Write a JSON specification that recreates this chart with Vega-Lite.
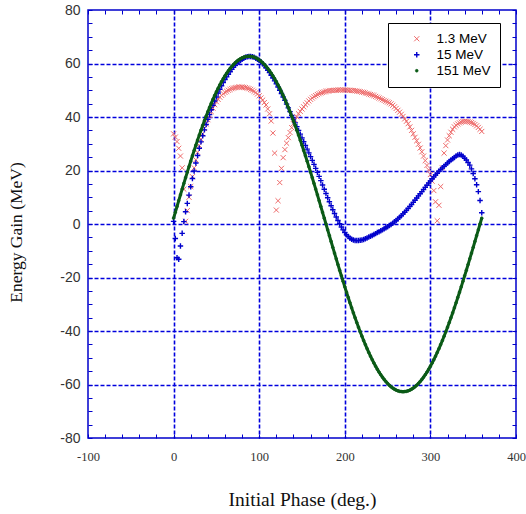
{
  "$schema": "https://vega.github.io/schema/vega-lite/v6.json",
  "width": 428,
  "height": 428,
  "autosize": {"type": "none"},
  "padding": {"left": 88, "top": 10, "right": 10, "bottom": 76},
  "background": "white",
  "config": {
    "view": {"stroke": "#0000cc", "strokeWidth": 1.5},
    "axis": {"domain": false}
  },
  "data": {"values": [
    {"x":0,"a":33.7,"b":1.0,"c":2.19},{"x":2,"a":32.5,"b":-5.4,"c":4.37},{"x":4,"a":30.8,"b":-12.6,"c":6.55},{"x":6,"a":28.3,"b":-13.2,"c":8.73},{"x":8,"a":25.4,"b":-8.2,"c":10.89},{"x":10,"a":21.0,"b":-3.5,"c":13.04},{"x":12,"a":13.0,"b":0.9,"c":15.17},{"x":14,"a":1.0,"b":4.6,"c":17.28},{"x":16,"a":5.0,"b":7.7,"c":19.38},{"x":18,"a":10.0,"b":10.8,"c":21.44},
    {"x":20,"a":14.0,"b":13.9,"c":23.49},{"x":22,"a":17.7,"b":17.0,"c":25.50},{"x":24,"a":21.0,"b":19.8,"c":27.49},{"x":26,"a":24.0,"b":22.8,"c":29.44},{"x":28,"a":26.8,"b":25.6,"c":31.35},{"x":30,"a":29.4,"b":28.3,"c":33.23},{"x":32,"a":31.7,"b":30.7,"c":35.06},{"x":34,"a":33.8,"b":33.0,"c":36.85},{"x":36,"a":35.7,"b":35.2,"c":38.60},{"x":38,"a":37.4,"b":37.2,"c":40.30},
    {"x":40,"a":39.0,"b":39.1,"c":41.95},{"x":42,"a":40.6,"b":40.9,"c":43.56},{"x":44,"a":42.0,"b":42.7,"c":45.10},{"x":46,"a":43.3,"b":44.4,"c":46.60},{"x":48,"a":44.6,"b":46.0,"c":48.03},{"x":50,"a":45.7,"b":47.5,"c":49.41},{"x":52,"a":46.6,"b":49.0,"c":50.73},{"x":54,"a":47.4,"b":50.4,"c":51.98},{"x":56,"a":48.1,"b":51.7,"c":53.17},{"x":58,"a":48.7,"b":52.9,"c":54.30},
    {"x":60,"a":49.2,"b":54.0,"c":55.36},{"x":62,"a":49.6,"b":55.0,"c":56.36},{"x":64,"a":50.0,"b":56.0,"c":57.28},{"x":66,"a":50.3,"b":56.9,"c":58.13},{"x":68,"a":50.6,"b":57.8,"c":58.92},{"x":70,"a":50.8,"b":58.6,"c":59.63},{"x":72,"a":51.0,"b":59.3,"c":60.27},{"x":74,"a":51.1,"b":60.0,"c":60.84},{"x":76,"a":51.2,"b":60.6,"c":61.33},{"x":78,"a":51.2,"b":61.1,"c":61.75},
    {"x":80,"a":51.2,"b":61.6,"c":62.09},{"x":82,"a":51.1,"b":62.0,"c":62.36},{"x":84,"a":51.0,"b":62.3,"c":62.55},{"x":86,"a":50.8,"b":62.5,"c":62.66},{"x":88,"a":50.6,"b":62.6,"c":62.70},{"x":90,"a":50.3,"b":62.6,"c":62.66},{"x":92,"a":50.0,"b":62.5,"c":62.55},{"x":94,"a":49.6,"b":62.3,"c":62.36},{"x":96,"a":49.1,"b":62.0,"c":62.09},{"x":98,"a":48.6,"b":61.6,"c":61.75},
    {"x":100,"a":47.9,"b":61.2,"c":61.33},{"x":102,"a":47.1,"b":60.6,"c":60.84},{"x":104,"a":46.3,"b":59.9,"c":60.27},{"x":106,"a":45.4,"b":59.2,"c":59.63},{"x":108,"a":44.5,"b":58.4,"c":58.92},{"x":110,"a":43.0,"b":57.5,"c":58.13},{"x":112,"a":41.2,"b":56.6,"c":57.28},{"x":114,"a":38.5,"b":55.6,"c":56.36},{"x":116,"a":34.0,"b":54.6,"c":55.36},{"x":118,"a":26.5,"b":53.5,"c":54.30},
    {"x":120,"a":5.2,"b":52.4,"c":53.17},{"x":122,"a":8.7,"b":51.2,"c":51.98},{"x":124,"a":15.5,"b":50.0,"c":50.73},{"x":126,"a":20.8,"b":48.8,"c":49.41},{"x":128,"a":24.8,"b":47.5,"c":48.03},{"x":130,"a":27.8,"b":46.2,"c":46.60},{"x":132,"a":30.2,"b":44.8,"c":45.10},{"x":134,"a":32.3,"b":43.4,"c":43.56},{"x":136,"a":34.2,"b":42.0,"c":41.95},{"x":138,"a":36.0,"b":40.6,"c":40.30},
    {"x":140,"a":37.5,"b":39.2,"c":38.60},{"x":142,"a":38.9,"b":37.8,"c":36.85},{"x":144,"a":40.1,"b":36.4,"c":35.06},{"x":146,"a":41.2,"b":35.0,"c":33.23},{"x":148,"a":42.1,"b":33.6,"c":31.35},{"x":150,"a":43.0,"b":32.2,"c":29.44},{"x":152,"a":43.8,"b":30.8,"c":27.49},{"x":154,"a":44.6,"b":29.4,"c":25.50},{"x":156,"a":45.3,"b":28.0,"c":23.49},{"x":158,"a":46.0,"b":26.6,"c":21.44},
    {"x":160,"a":46.6,"b":25.2,"c":19.38},{"x":162,"a":47.1,"b":23.8,"c":17.28},{"x":164,"a":47.6,"b":22.3,"c":15.17},{"x":166,"a":48.0,"b":20.8,"c":13.04},{"x":168,"a":48.4,"b":19.3,"c":10.89},{"x":170,"a":48.7,"b":17.8,"c":8.73},{"x":172,"a":49.0,"b":16.2,"c":6.55},{"x":174,"a":49.2,"b":14.6,"c":4.37},{"x":176,"a":49.4,"b":13.0,"c":2.19},{"x":178,"a":49.6,"b":11.4,"c":0},
    {"x":180,"a":49.7,"b":9.8,"c":-2.19},{"x":182,"a":49.8,"b":8.3,"c":-4.37},{"x":184,"a":49.9,"b":6.8,"c":-6.55},{"x":186,"a":49.9,"b":5.3,"c":-8.73},{"x":188,"a":50.0,"b":3.9,"c":-10.89},{"x":190,"a":50.0,"b":2.6,"c":-13.04},{"x":192,"a":50.1,"b":1.3,"c":-15.17},{"x":194,"a":50.1,"b":0.1,"c":-17.28},{"x":196,"a":50.1,"b":-1.1,"c":-19.38},{"x":198,"a":50.1,"b":-2.2,"c":-21.44},
    {"x":200,"a":50.1,"b":-3.2,"c":-23.49},{"x":202,"a":50.1,"b":-4.0,"c":-25.50},{"x":204,"a":50.0,"b":-4.7,"c":-27.49},{"x":206,"a":50.0,"b":-5.3,"c":-29.44},{"x":208,"a":49.9,"b":-5.7,"c":-31.35},{"x":210,"a":49.9,"b":-6.0,"c":-33.23},{"x":212,"a":49.8,"b":-6.2,"c":-35.06},{"x":214,"a":49.7,"b":-6.2,"c":-36.85},{"x":216,"a":49.6,"b":-6.2,"c":-38.60},{"x":218,"a":49.5,"b":-6.1,"c":-40.30},
    {"x":220,"a":49.3,"b":-6.0,"c":-41.95},{"x":222,"a":49.2,"b":-5.8,"c":-43.56},{"x":224,"a":49.0,"b":-5.5,"c":-45.10},{"x":226,"a":48.8,"b":-5.2,"c":-46.60},{"x":228,"a":48.6,"b":-4.9,"c":-48.03},{"x":230,"a":48.4,"b":-4.6,"c":-49.41},{"x":232,"a":48.2,"b":-4.3,"c":-50.73},{"x":234,"a":48.0,"b":-3.9,"c":-51.98},{"x":236,"a":47.7,"b":-3.6,"c":-53.17},{"x":238,"a":47.4,"b":-3.2,"c":-54.30},
    {"x":240,"a":47.1,"b":-2.9,"c":-55.36},{"x":242,"a":46.8,"b":-2.5,"c":-56.36},{"x":244,"a":46.5,"b":-2.2,"c":-57.28},{"x":246,"a":46.2,"b":-1.8,"c":-58.13},{"x":248,"a":45.9,"b":-1.4,"c":-58.92},{"x":250,"a":45.6,"b":-1.0,"c":-59.63},{"x":252,"a":45.3,"b":-0.6,"c":-60.27},{"x":254,"a":44.9,"b":-0.2,"c":-60.84},{"x":256,"a":44.4,"b":0.3,"c":-61.33},{"x":258,"a":43.8,"b":0.8,"c":-61.75},
    {"x":260,"a":43.2,"b":1.3,"c":-62.09},{"x":262,"a":42.5,"b":1.9,"c":-62.36},{"x":264,"a":41.8,"b":2.5,"c":-62.55},{"x":266,"a":41.0,"b":3.1,"c":-62.66},{"x":268,"a":40.2,"b":3.8,"c":-62.70},{"x":270,"a":39.3,"b":4.4,"c":-62.66},{"x":272,"a":38.4,"b":5.1,"c":-62.55},{"x":274,"a":37.5,"b":5.8,"c":-62.36},{"x":276,"a":36.3,"b":6.6,"c":-62.09},{"x":278,"a":35.0,"b":7.3,"c":-61.75},
    {"x":280,"a":33.7,"b":8.1,"c":-61.33},{"x":282,"a":32.4,"b":8.9,"c":-60.84},{"x":284,"a":31.1,"b":9.7,"c":-60.27},{"x":286,"a":29.8,"b":10.5,"c":-59.63},{"x":288,"a":28.4,"b":11.3,"c":-58.92},{"x":290,"a":27.0,"b":12.1,"c":-58.13},{"x":292,"a":25.4,"b":12.9,"c":-57.28},{"x":294,"a":23.7,"b":13.7,"c":-56.36},{"x":296,"a":21.9,"b":14.5,"c":-55.36},{"x":298,"a":20.2,"b":15.3,"c":-54.30},
    {"x":300,"a":18.5,"b":16.1,"c":-53.17},{"x":302,"a":16.0,"b":16.9,"c":-51.98},{"x":304,"a":12.5,"b":17.6,"c":-50.73},{"x":306,"a":8.3,"b":18.3,"c":-49.41},{"x":308,"a":1.2,"b":19.0,"c":-48.03},{"x":310,"a":7.0,"b":19.7,"c":-46.60},{"x":312,"a":14.0,"b":20.4,"c":-45.10},{"x":314,"a":21.0,"b":21.0,"c":-43.56},{"x":316,"a":26.5,"b":21.6,"c":-41.95},{"x":318,"a":29.3,"b":22.2,"c":-40.30},
    {"x":320,"a":31.4,"b":22.8,"c":-38.60},{"x":322,"a":33.0,"b":23.4,"c":-36.85},{"x":324,"a":34.3,"b":23.9,"c":-35.06},{"x":326,"a":35.4,"b":24.4,"c":-33.23},{"x":328,"a":36.3,"b":24.9,"c":-31.35},{"x":330,"a":36.9,"b":25.4,"c":-29.44},{"x":332,"a":37.4,"b":25.8,"c":-27.49},{"x":334,"a":37.8,"b":26.0,"c":-25.50},{"x":336,"a":38.1,"b":25.8,"c":-23.49},{"x":338,"a":38.3,"b":25.3,"c":-21.44},
    {"x":340,"a":38.4,"b":24.6,"c":-19.38},{"x":342,"a":38.4,"b":23.9,"c":-17.28},{"x":344,"a":38.3,"b":23.0,"c":-15.17},{"x":346,"a":38.1,"b":22.0,"c":-13.04},{"x":348,"a":37.9,"b":20.6,"c":-10.89},{"x":350,"a":37.6,"b":18.9,"c":-8.73},{"x":352,"a":37.2,"b":16.9,"c":-6.55},{"x":354,"a":36.7,"b":14.7,"c":-4.37},{"x":356,"a":36.1,"b":12.1,"c":-2.19},{"x":358,"a":35.4,"b":8.8,"c":0},
    {"x":360,"a":34.6,"b":4.2,"c":2.19}
  ]},
  "layer": [
    {
      "transform": [{"fold": ["a", "b", "c"], "as": ["s", "y"]}],
      "mark": {"type": "point", "filled": false, "opacity": 1},
      "encoding": {
        "x": {"field": "x", "type": "quantitative", "scale": {"domain": [-100, 400], "nice": false, "zero": false},
          "axis": {"orient": "bottom", "values": [-100,-80,-60,-40,-20,0,20,40,60,80,100,120,140,160,180,200,220,240,260,280,300,320,340,360,380,400],
            "labelExpr": "datum.value % 100 == 0 ? '' + datum.value : ''", "labelOverlap": false, "labelFlush": false,
            "labelFont": "Liberation Serif", "labelFontSize": 12.5, "labelColor": "#333333", "labelPadding": 16,
            "tickSize": -4, "tickColor": "#0000cc", "tickWidth": 1,
            "grid": true, "gridColor": {"condition": {"test": "datum.value % 100 == 0 && datum.value > -100 && datum.value < 400", "value": "#0000dd"}, "value": "transparent"},
            "gridDash": [4, 2], "gridWidth": 1.6,
            "title": "Initial Phase (deg.)", "titleFont": "Liberation Serif", "titleFontSize": 19.5, "titleFontWeight": "normal", "titleColor": "#111111", "titlePadding": 28}},
        "y": {"field": "y", "type": "quantitative", "scale": {"domain": [-80, 80], "nice": false, "zero": false},
          "axis": {"orient": "left", "values": [-80,-75,-70,-65,-60,-55,-50,-45,-40,-35,-30,-25,-20,-15,-10,-5,0,5,10,15,20,25,30,35,40,45,50,55,60,65,70,75,80],
            "labelExpr": "datum.value % 20 == 0 ? '' + datum.value : ''", "labelOverlap": false, "labelFlush": false,
            "labelFont": "Liberation Sans", "labelFontSize": 14, "labelColor": "#333333", "labelPadding": 12,
            "tickSize": -4, "tickColor": "#0000cc", "tickWidth": 1,
            "grid": true, "gridColor": {"condition": {"test": "datum.value % 20 == 0 && datum.value > -80 && datum.value < 80", "value": "#0000dd"}, "value": "transparent"},
            "gridDash": [4, 2], "gridWidth": 1.3,
            "title": "Energy Gain (MeV)", "titleFont": "Liberation Serif", "titleFontSize": 17.5, "titleFontWeight": "normal", "titleColor": "#111111", "titlePadding": 34, "titleY": 222}},
        "stroke": {"field": "s", "type": "nominal",
          "scale": {"domain": ["a", "b", "c"], "range": ["#ee6a6a", "#0000cc", "#0a5a16"]},
          "legend": {"title": null, "orient": "none", "legendX": 300, "legendY": 13,
            "labelExpr": "datum.value == 'a' ? '1.3 MeV' : datum.value == 'b' ? '15 MeV' : '151 MeV'",
            "fillColor": "white", "strokeColor": "black", "padding": 9,
            "labelFont": "Liberation Sans", "labelFontSize": 13.5, "labelLimit": 200,
            "symbolOffset": 13, "labelOffset": 13, "rowPadding": 1,
            "encode": {"labels": {"update": {"fill": {"signal": "datum.value == 'a' ? '#e8503c' : datum.value == 'b' ? '#2020d0' : '#257535'"}}}}}},
        "shape": {"field": "s", "type": "nominal",
          "scale": {"domain": ["a", "b", "c"], "range": ["M-1,-1L1,1M1,-1L-1,1", "M-1,0L1,0M0,-1L0,1", "circle"]}},
        "fill": {"field": "s", "type": "nominal",
          "scale": {"domain": ["a", "b", "c"], "range": ["transparent", "transparent", "#0a5a16"]}},
        "size": {"field": "s", "type": "nominal",
          "scale": {"type": "ordinal", "domain": ["a", "b", "c"], "range": [26, 30, 8]}},
        "strokeWidth": {"field": "s", "type": "nominal",
          "scale": {"type": "ordinal", "domain": ["a", "b", "c"], "range": [1, 1.4, 0.6]}},
        "order": {"field": "s", "sort": "ascending"}
      }
    },
    {
      "mark": {"type": "line", "stroke": "#0a5a16", "strokeWidth": 3},
      "encoding": {
        "x": {"field": "x", "type": "quantitative", "axis": null},
        "y": {"field": "c", "type": "quantitative", "axis": null}
      }
    },
    {
      "data": {"values": [{"x": 0, "y": 0}]},
      "mark": {"type": "point", "opacity": 0},
      "encoding": {
        "x": {"field": "x", "type": "quantitative",
          "axis": {"orient": "top", "values": [-100,-80,-60,-40,-20,0,20,40,60,80,100,120,140,160,180,200,220,240,260,280,300,320,340,360,380,400], "labels": false, "grid": false, "title": null, "tickSize": -4, "tickColor": "#0000cc", "tickWidth": 1}},
        "y": {"field": "y", "type": "quantitative",
          "axis": {"orient": "right", "values": [-80,-75,-70,-65,-60,-55,-50,-45,-40,-35,-30,-25,-20,-15,-10,-5,0,5,10,15,20,25,30,35,40,45,50,55,60,65,70,75,80], "labels": false, "grid": false, "title": null, "tickSize": -4, "tickColor": "#0000cc", "tickWidth": 1}}
      }
    }
  ],
  "resolve": {"axis": {"x": "independent", "y": "independent"}}
}
